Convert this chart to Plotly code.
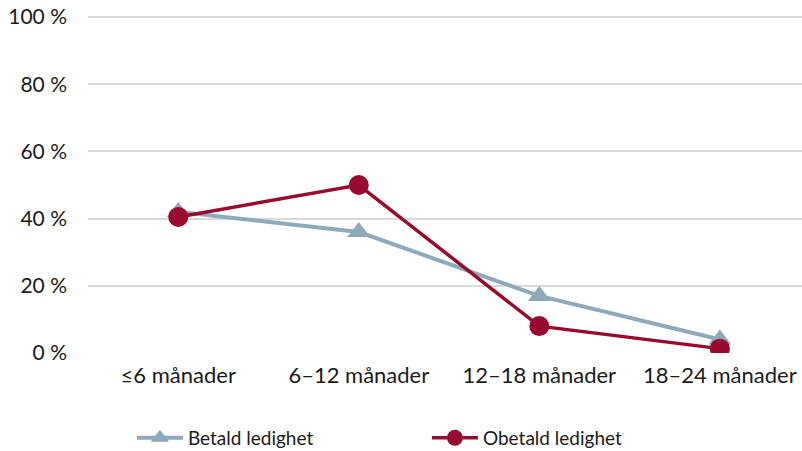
import plotly.graph_objects as go

categories = ["≤6 månader", "6–12 månader", "12–18 månader", "18–24 månader"]
betald = [42, 36, 17, 4]
obetald = [40.5, 50, 8, 1.3]
y_ticks = [0, 20, 40, 60, 80, 100]
y_tick_labels = ["0 %", "20 %", "40 %", "60 %", "80 %", "100 %"]

BLUE = "#8EA9B9"
RED = "#990A30"
FONT = "Lato"

fig = go.Figure()
fig.add_trace(go.Scatter(
    x=categories, y=betald, name="Betald ledighet", mode="lines+markers",
    line=dict(color=BLUE, width=4),
    marker=dict(symbol="triangle-up", size=20, color=BLUE),
))
fig.add_trace(go.Scatter(
    x=categories, y=obetald, name="Obetald ledighet", mode="lines+markers",
    line=dict(color=RED, width=3.5),
    marker=dict(symbol="circle", size=20, color=RED),
))

fig.update_layout(
    width=802, height=451,
    margin=dict(l=88, r=0, t=16, b=98, autoexpand=False),
    paper_bgcolor="white", plot_bgcolor="white",
    font=dict(family=FONT, size=20, color="#1a1a1a"),
    showlegend=True,
    legend=dict(
        orientation="h", xref="container", yref="container",
        x=0.1645, y=1 - 438 / 451, xanchor="left", yanchor="middle",
        entrywidth=234, entrywidthmode="pixels",
        font=dict(family=FONT, size=19, color="#1a1a1a"),
        itemwidth=46,
    ),
    xaxis=dict(
        type="category", range=[-0.5, 3.455],
        showgrid=False, showline=False, zeroline=False,
        ticks="", tickfont=dict(size=22), automargin=False,
        ticklabelstandoff=7,
    ),
    yaxis=dict(
        range=[0, 100.3], tickvals=y_ticks, ticktext=y_tick_labels,
        showgrid=True, gridcolor="#D9D9D9", gridwidth=1.5,
        zeroline=False, showline=False, ticks="", ticklabelstandoff=20,
        tickfont=dict(size=21), automargin=False,
    ),
)

fig.write_html(
    "out.html",
    config={"displayModeBar": False},
    post_script="document.body.style.margin='0';document.body.style.overflow='hidden';",
)
